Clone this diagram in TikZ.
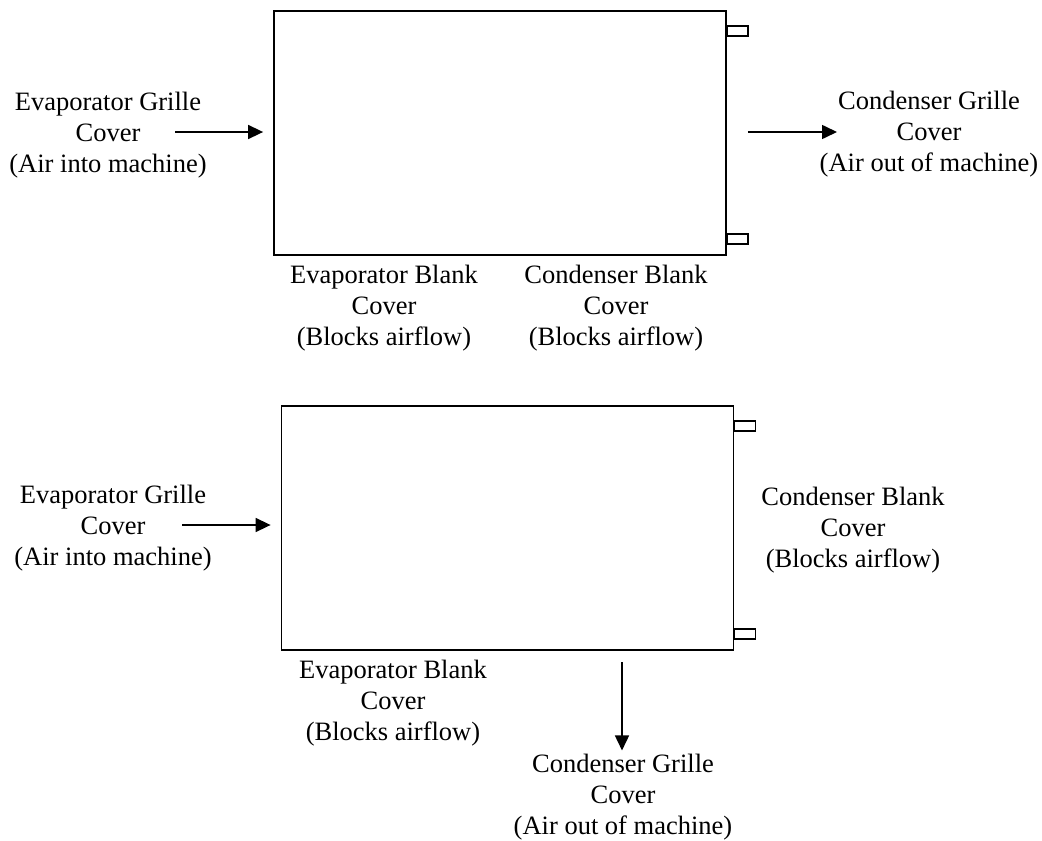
\documentclass[tikz,border=0pt]{standalone}
\usepackage{fontspec}
\setmainfont{Liberation Serif}
\usetikzlibrary{arrows.meta}
\tikzset{
x=1pt, y=-1pt, % one unit per pixel, y going down
>={Triangle[length=15pt,width=14pt]}, % filled arrow heads
unit/.style={draw, line width=1.8pt, minimum width=452pt, minimum height=244pt, inner sep=0pt}, % the machine
tab/.style={draw, line width=1.6pt}, % small tabs on the right side
cover/.style={align=center, font=\fontsize{26.5}{31}\selectfont}, % the cover labels
flow/.style={->, line width=1.6pt}, % direction of the air
}
\begin{document}
\begin{tikzpicture}
		\useasboundingbox (0,0) rectangle (1042,841);

		\node[unit] (boxA) at (500,133) {};
		\draw[tab] ([yshift=-16pt]boxA.north east) rectangle ++(21,10);
		\draw[tab] ([yshift=12pt]boxA.south east) rectangle ++(21,-10);

		\node[cover] (evapgrilleA) at (108,135) {Evaporator Grille\\Cover\\(Air into machine)};
		\node[cover] (condgrilleA) at (929,134) {Condenser Grille\\Cover\\(Air out of machine)};
		\node[cover] (evapblankA) at (384,308) {Evaporator Blank\\Cover\\(Blocks airflow)};
		\node[cover] (condblankA) at (616,308) {Condenser Blank\\Cover\\(Blocks airflow)};

		\coordinate (evapinA) at (175,132);
		\coordinate (condoutA) at (837,132);
		\draw[flow, shorten >=10pt] (evapinA) -- (evapinA -| boxA.west);
		\draw[flow, shorten <=21pt] (boxA.east |- condoutA) -- (condoutA);

		\node[unit] (boxB) at (507.5,528) {};
		\draw[tab] ([yshift=-16pt]boxB.north east) rectangle ++(21,10);
		\draw[tab] ([yshift=12pt]boxB.south east) rectangle ++(21,-10);

		\node[cover] (evapgrilleB) at (113,528) {Evaporator Grille\\Cover\\(Air into machine)};
		\node[cover] (condblankB) at (853,530) {Condenser Blank\\Cover\\(Blocks airflow)};
		\node[cover] (evapblankB) at (393,703) {Evaporator Blank\\Cover\\(Blocks airflow)};
		\node[cover] (condgrilleB) at (623,797) {Condenser Grille\\Cover\\(Air out of machine)};

		\coordinate (evapinB) at (182,525);
		\coordinate (condoutB) at (622,662);
		\draw[flow, shorten >=10pt] (evapinB) -- (evapinB -| boxB.west);
		\draw[flow] (condoutB) -- (condoutB |- condgrilleB.north);
	\end{tikzpicture}
\end{document}
